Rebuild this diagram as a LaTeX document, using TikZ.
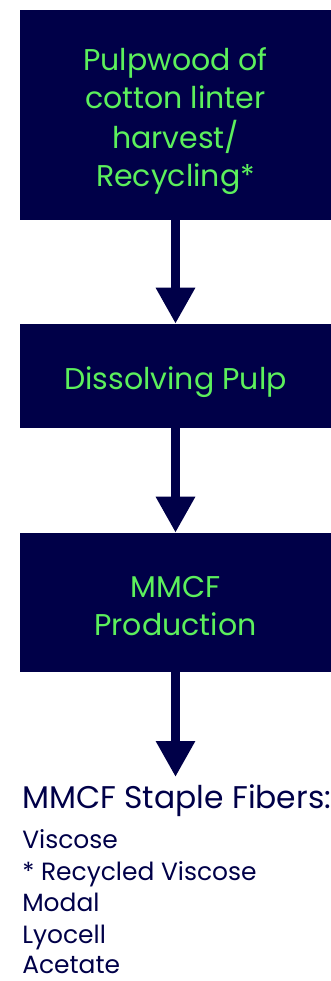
\documentclass[tikz,border=0pt]{standalone}
\usepackage{fontspec}
\setmainfont{Poppins}
\usetikzlibrary{arrows.meta}
\definecolor{navy}{RGB}{0,0,72}
\definecolor{lgreen}{RGB}{92,240,92}
\newcommand{\lowtext}[1]{\raisebox{-4.5pt}[\height][\depth]{\begin{tabular}{@{}c@{}}#1\end{tabular}}}
\tikzset{
  box/.style={fill=navy, draw=none, text=lgreen, align=center, inner sep=0pt,
    font=\fontsize{22.5pt}{28.5pt}\selectfont},
  flow/.style={draw=navy, line width=6.75pt, -{Triangle[width=27.75pt,length=27pt]}},
  head/.style={anchor=base west, inner sep=0pt, text=navy, font=\fontsize{23.5pt}{27pt}\selectfont},
  item/.style={anchor=base west, inner sep=0pt, text depth=0pt, text=navy, font=\fontsize{18.7pt}{24pt}\selectfont}
}
\begin{document}
\begin{tikzpicture}[x=0.75pt,y=-0.75pt]
\useasboundingbox (0,0) rectangle (331,981);
\node[box, minimum width=233.25pt, minimum height=157.5pt] (b1) at (175.5,115)
  {\lowtext{Pulpwood of\\cotton linter\\harvest/\\Recycling*}};
\node[box, minimum width=233.25pt, minimum height=78pt] (b2) at (175.5,376)
  {\lowtext{Dissolving Pulp}};
\node[box, minimum width=233.25pt, minimum height=104.25pt] (b3) at (175.5,602.5)
  {\lowtext{MMCF\\Production}};
\coordinate (end) at (175.5,777);
\draw[flow] (b1.south) -- (b2.north);
\draw[flow] (b2.south) -- (b3.north);
\draw[flow] (b3.south) -- (end);
\node[head] (h) at (22,808) {MMCF Staple Fibers:};
\node[item] (i1) at (22,848) {Viscose};
\node[item] (i2) at (22,880) {* Recycled Viscose};
\node[item] (i3) at (22,911) {Modal};
\node[item] (i4) at (22,943) {Lyocell};
\node[item] (i5) at (22,973) {Acetate};
\end{tikzpicture}
\end{document}
